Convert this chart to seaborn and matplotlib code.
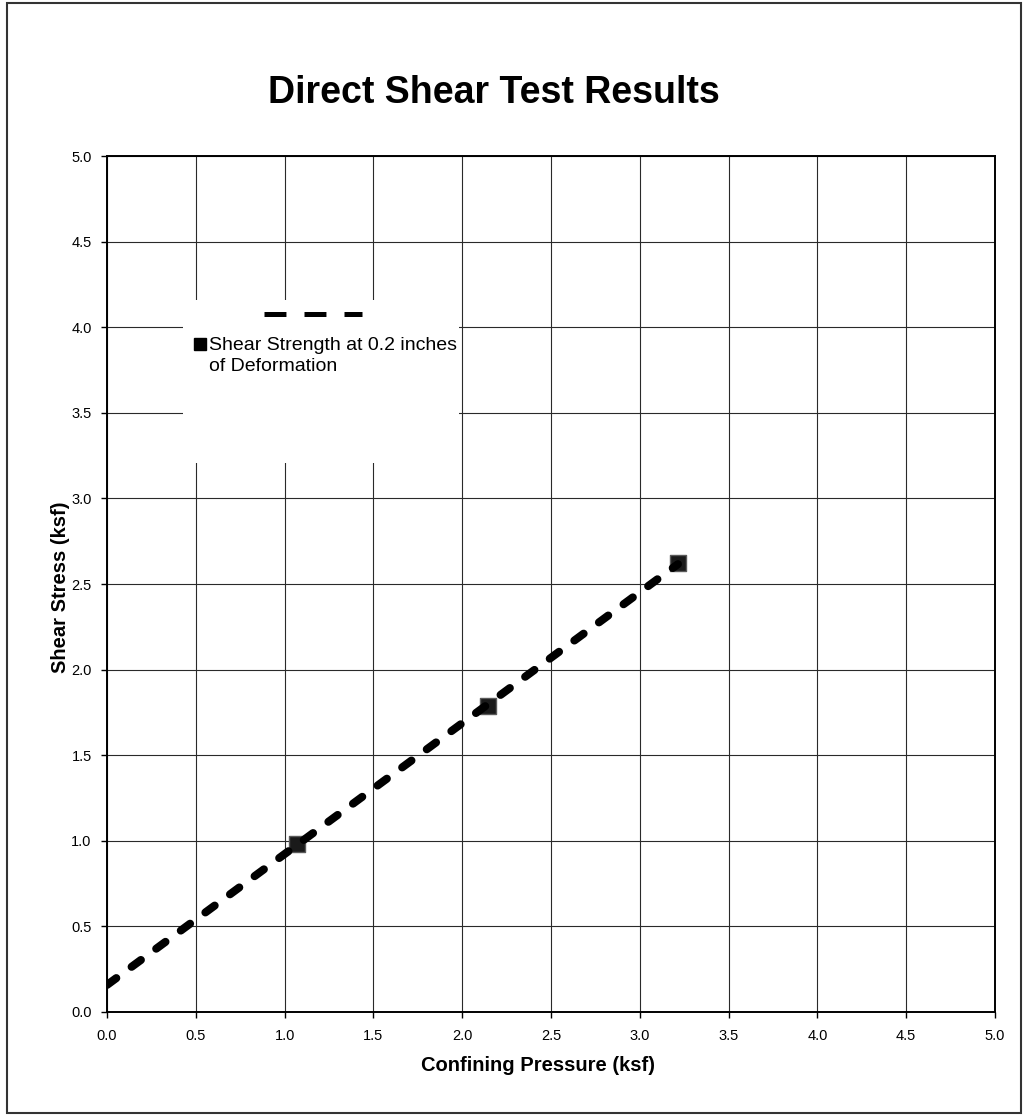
import numpy as np
import matplotlib
matplotlib.use('Agg')
import matplotlib.pyplot as plt
from matplotlib.patches import Rectangle
from matplotlib.lines import Line2D
from matplotlib.ticker import FormatStrFormatter
import seaborn as sns

# test results
pressure = [1.07, 2.145, 3.215]   # confining pressure, ksf
stress = [0.98, 1.79, 2.62]       # shear stress, ksf
ticks = [0.0, 0.5, 1.0, 1.5, 2.0, 2.5, 3.0, 3.5, 4.0, 4.5, 5.0]
label_pts = 'Shear Strength at 0.2 inches\nof Deformation'

sns.set_theme(style='white')
plt.rcParams['font.family'] = ['Liberation Sans', 'DejaVu Sans']
plt.rcParams['lines.scale_dashes'] = False
plt.rcParams['text.color'] = 'black'
plt.rcParams['axes.labelcolor'] = 'black'

fig = plt.figure(figsize=(10.25, 11.16), dpi=100)
ax = fig.add_axes([0.1044, 0.0932, 0.8663, 0.767])

# linear trend through the points
slope, intercept = np.polyfit(pressure, stress, 1)
fit_x = np.array([0.0, max(pressure)])
fit_y = intercept + slope * fit_x

sns.scatterplot(x=pressure, y=stress, ax=ax, marker='s', s=120,
                color='#1a1a1a', edgecolor='#5a5a5a', linewidth=1, zorder=3)
sns.lineplot(x=fit_x, y=fit_y, ax=ax, color='black', lw=5.8, zorder=4)
trend = ax.lines[-1]
trend.set_dashes((8.3, 13.7))
trend.set_dash_capstyle('round')

ax.set_xlim(0, 5)
ax.set_ylim(0, 5)
ax.set_xticks(ticks)
ax.set_yticks(ticks)
ax.xaxis.set_major_formatter(FormatStrFormatter('%.1f'))
ax.yaxis.set_major_formatter(FormatStrFormatter('%.1f'))
ax.grid(True, color='#2a2a2a', lw=0.8)
ax.set_axisbelow(True)
ax.tick_params(axis='both', direction='out', length=4, width=1, color='black',
               labelsize=10.5, labelcolor='black', left=True, bottom=True)
ax.tick_params(axis='x', pad=8)
ax.tick_params(axis='y', pad=7)
for sp in ax.spines.values():
    sp.set_color('black')
    sp.set_linewidth(1.4)

# legend block: white area hiding the grid, dash sample, marker entry
ax.add_patch(Rectangle((0.0856, 0.6414), 0.3108, 0.1906, transform=ax.transAxes,
                       facecolor='white', edgecolor='none', zorder=1))
ax.add_line(Line2D([0.1768, 0.2872], [0.8154, 0.8154], transform=ax.transAxes,
                   color='black', lw=3.6, dashes=(15.8, 13), dash_capstyle='butt',
                   zorder=5))
ax.add_line(Line2D([0.1047], [0.7804], transform=ax.transAxes, marker='s',
                   ls='none', color='black', markersize=8.6, zorder=5))
ax.text(0.1149, 0.7887, label_pts, transform=ax.transAxes, ha='left', va='top',
        fontsize=14, linespacing=1.32, zorder=5)

fig.text(0.4815, 0.9077, 'Direct Shear Test Results', ha='center', va='baseline',
         fontsize=27, fontweight='bold')
fig.text(0.5244, 0.0403, 'Confining Pressure (ksf)', ha='center', va='baseline',
         fontsize=14.5, fontweight='bold')
fig.text(61 / 1025, 1 - 587 / 1116, 'Shear Stress (ksf)', ha='center', va='center',
         rotation=90, fontsize=14.5, fontweight='bold')

fig.patches.append(Rectangle((0.0068, 0.0027), 0.9893, 0.9946, transform=fig.transFigure,
                             fill=False, edgecolor='#333333', lw=1.5))

fig.savefig('out.png', dpi=100, facecolor='white')
